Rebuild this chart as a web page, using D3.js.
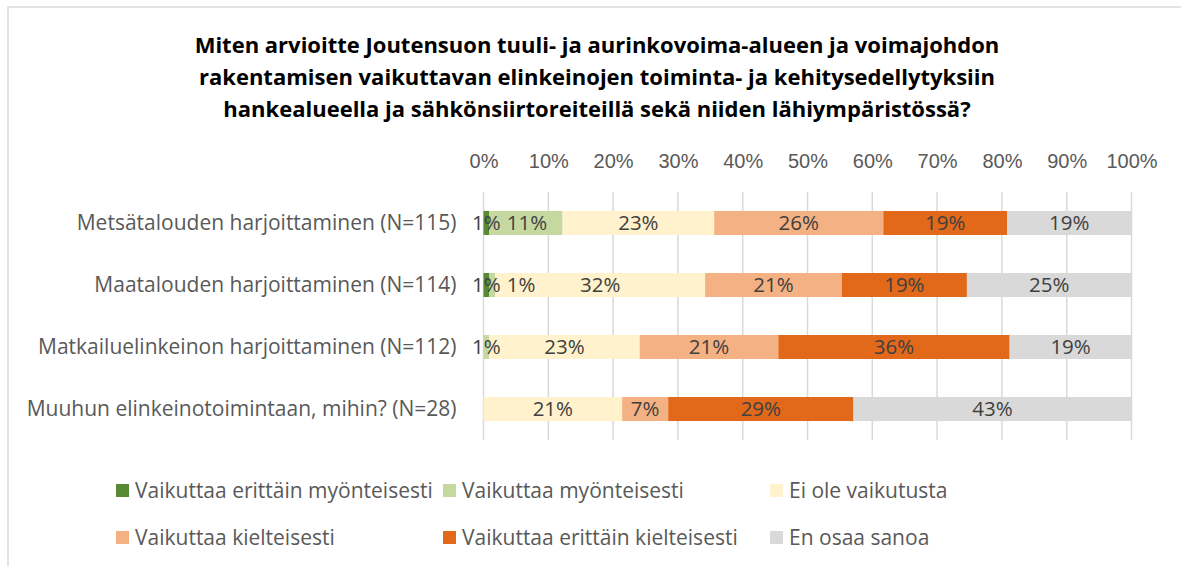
<!DOCTYPE html>
<html>
<head>
<meta charset="utf-8">
<script src="https://cdn.jsdelivr.net/npm/d3@7"></script>
<style>
  body { margin: 0; background: #fff; }
  svg { display: block; font-family: "Open Sans", sans-serif; }
  .t_title { font-weight: bold; fill: #000; font-size: 22px; }
  .t_cat { fill: #595959; font-size: 21px; }
  .t_tick { fill: #595959; font-size: 20px; }
  .t_val { fill: #404040; font-size: 20.5px; }
  .t_leg { fill: #595959; font-size: 21px; }
</style>
</head>
<body>
<svg width="1181" height="566"></svg>
<script>
/* ----------------------------------------------------------
data
---------------------------------------------------------- */

var titleLines = [
  "Miten arvioitte Joutensuon tuuli- ja aurinkovoima-alueen ja voimajohdon",
  "rakentamisen vaikuttavan elinkeinojen toiminta- ja kehitysedellytyksiin",
  "hankealueella ja sähkönsiirtoreiteillä sekä niiden lähiympäristössä?"
];

var categories = [
  "Metsätalouden harjoittaminen (N=115)",
  "Maatalouden harjoittaminen (N=114)",
  "Matkailuelinkeinon harjoittaminen (N=112)",
  "Muuhun elinkeinotoimintaan, mihin? (N=28)"
];

var seriesNames = [
  "Vaikuttaa erittäin myönteisesti",
  "Vaikuttaa myönteisesti",
  "Ei ole vaikutusta",
  "Vaikuttaa kielteisesti",
  "Vaikuttaa erittäin kielteisesti",
  "En osaa sanoa"
];

var seriesColors = ["#588a36", "#c5d8a0", "#fff2cc", "#f4b183", "#e2681a", "#d9d9d9"];

// percent per category, one array per series
var veryPositive = [0.9, 0.9, 0, 0];
var positive     = [11.3, 0.9, 0.9, 0];
var noEffect     = [23.4, 32.4, 23.2, 21.4];
var negative     = [26.1, 21.1, 21.4, 7.1];
var veryNegative = [19.1, 19.3, 35.7, 28.6];
var dontKnow     = [19.2, 25.4, 18.8, 42.9];

var tickValues = [0, 10, 20, 30, 40, 50, 60, 70, 80, 90, 100];

/* ----------------------------------------------------------
prepare
---------------------------------------------------------- */

var seriesValues = [veryPositive, positive, noEffect, negative, veryNegative, dontKnow];
var rows = categories.map(function(c, i) {
  var r = { cat: c };
  seriesNames.forEach(function(s, j) { r[s] = seriesValues[j][i]; });
  return r;
});

var svg = d3.select("svg");

// chart frame (right and bottom edges run off the picture)
svg.append("rect")
  .attr("x", 8).attr("y", 7).attr("width", 1300).attr("height", 700)
  .attr("fill", "none").attr("stroke", "#d9d9d9").attr("stroke-width", 1.5);

// title
var title = svg.append("text").attr("class", "t_title").attr("text-anchor", "middle");
titleLines.forEach(function(t, i) {
  title.append("tspan").attr("x", 597).attr("y", 53 + i * 32).text(t);
});

var x = d3.scaleLinear().domain([0, 100]).range([483.5, 1131.5]);
var y = d3.scaleBand().domain(categories).range([192, 440])
  .paddingInner(0.613).paddingOuter(0.306);

// gridlines
svg.append("g").selectAll("line")
  .data(tickValues).enter().append("line")
  .attr("x1", d => x(d)).attr("x2", d => x(d))
  .attr("y1", 192).attr("y2", 440)
  .attr("stroke", "#d9d9d9").attr("stroke-width", 1.5);

// top axis labels
var axis = svg.append("g").attr("transform", "translate(0,168)")
  .call(d3.axisTop(x).tickValues(tickValues).tickSize(0).tickPadding(0)
    .tickFormat(d => d + "%"));
axis.select(".domain").remove();
axis.selectAll("text").attr("class", "t_tick").attr("font-size", null)
  .attr("font-family", null).attr("fill", null).attr("dy", 0);

// category labels
svg.append("g").selectAll("text")
  .data(categories).enter().append("text")
  .attr("class", "t_cat")
  .attr("text-anchor", "end")
  .attr("x", x(0) - 27)
  .attr("y", d => y(d) + y.bandwidth() / 2)
  .attr("dy", "0.35em")
  .text(d => d);

// bars
var stacked = d3.stack().keys(seriesNames)(rows);

var layers = svg.append("g").selectAll("g")
  .data(stacked).enter().append("g")
  .attr("fill", (d, i) => seriesColors[i]);

layers.selectAll("rect")
  .data(d => d).enter().append("rect")
  .attr("x", d => x(d[0]))
  .attr("y", d => y(d.data.cat))
  .attr("width", d => x(d[1]) - x(d[0]))
  .attr("height", y.bandwidth());

// value labels, pushed right when they would run into the previous one
var gLabels = svg.append("g");
categories.forEach(function(c, ci) {
  var lastRight = -Infinity;
  stacked.forEach(function(layer) {
    var d = layer[ci];
    var v = d[1] - d[0];
    if (v <= 0) return;
    var t = gLabels.append("text").attr("class", "t_val")
      .attr("text-anchor", "middle")
      .attr("y", y(c) + y.bandwidth() / 2).attr("dy", "0.36em")
      .text(Math.round(v) + "%");
    var w = t.node().getComputedTextLength();
    var cx = x((d[0] + d[1]) / 2);
    if (cx - w / 2 < lastRight + 6) cx = lastRight + 6 + w / 2;
    t.attr("x", cx);
    lastRight = cx + w / 2;
  });
});

// legend
var legs = svg.append("g").selectAll(".legends")
  .data(seriesNames).enter().append("g")
  .attr("class", "legends")
  .attr("transform", (d, i) => "translate(" + (116 + (i % 3) * 327) + "," + (491 + Math.floor(i / 3) * 47) + ")");

legs.append("rect")
  .attr("x", 0).attr("y", -7).attr("width", 13).attr("height", 13)
  .attr("fill", (d, i) => seriesColors[i]);

legs.append("text")
  .attr("class", "t_leg")
  .attr("x", 19).attr("dy", "0.35em")
  .text(d => d);
</script>
</body>
</html>
